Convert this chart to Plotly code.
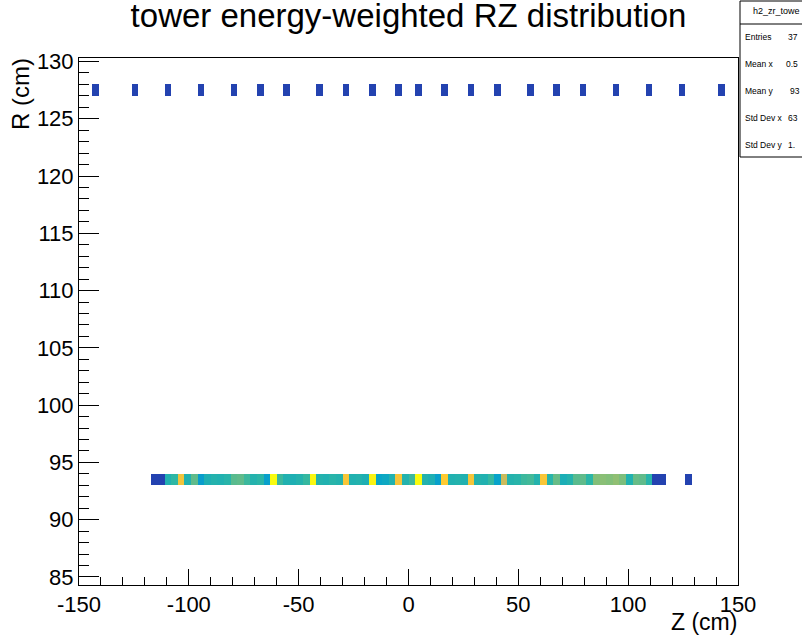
import plotly.graph_objects as go

# ---------------- data ----------------
title_text = "tower energy-weighted RZ distribution"
x_title = "Z (cm)"
y_title = "R (cm)"

# histogram binning (ROOT TH2): Z 100 bins in [-150,150], R bins of 1 cm
z_lo, z_hi, z_width = -150.0, 150.0, 3.0
r_lo, r_hi, r_width = 84.0, 131.0, 1.0
r_view = [84.3, 130.3]

x_tickvals = [-150, -100, -50, 0, 50, 100, 150]
x_ticktext = ["-150", "-100", "-50", "0", "50", "100", "150"]
y_tickvals = [85, 90, 95, 100, 105, 110, 115, 120, 125, 130]
y_ticktext = ["85", "90", "95", "100", "105", "110", "115", "120", "125", "130"]

# outer row (R = 127.5 cm)
upper_R = 127.5
upper_z = [-142.5, -124.5, -109.5, -94.5, -79.5, -67.5, -55.5, -40.5, -28.5, -16.5, -4.5,
           4.5, 16.5, 28.5, 40.5, 55.5, 67.5, 79.5, 94.5, 109.5, 124.5, 142.5]
upper_w = [0.06, 0.06, 0.06, 0.06, 0.06, 0.06, 0.06, 0.06, 0.06, 0.06, 0.06,
           0.06, 0.06, 0.06, 0.06, 0.06, 0.06, 0.06, 0.06, 0.06, 0.06, 0.06]

# inner row (R = 93.5 cm)
lower_R = 93.5
lower_z = [-115.5, -112.5, -109.5, -106.5, -103.5, -100.5, -97.5, -94.5, -91.5, -88.5,
           -85.5, -82.5, -79.5, -76.5, -73.5, -70.5, -67.5, -64.5, -61.5, -58.5,
           -55.5, -52.5, -49.5, -46.5, -43.5, -40.5, -37.5, -34.5, -31.5, -28.5,
           -25.5, -22.5, -19.5, -16.5, -13.5, -10.5, -7.5, -4.5, -1.5, 1.5,
           4.5, 7.5, 10.5, 13.5, 16.5, 19.5, 22.5, 25.5, 28.5, 31.5,
           34.5, 37.5, 40.5, 43.5, 46.5, 49.5, 52.5, 55.5, 58.5, 61.5,
           64.5, 67.5, 70.5, 73.5, 76.5, 79.5, 82.5, 85.5, 88.5, 91.5,
           94.5, 97.5, 100.5, 103.5, 106.5, 109.5, 112.5, 115.5, 127.5]
lower_w = [0.06, 0.06, 0.46, 0.50, 0.84, 0.46, 0.57, 0.35, 0.45, 0.47,
           0.46, 0.48, 0.56, 0.57, 0.52, 0.47, 0.49, 0.36, 1.00, 0.52,
           0.46, 0.45, 0.47, 0.51, 0.99, 0.47, 0.46, 0.48, 0.47, 0.86,
           0.46, 0.47, 0.45, 0.98, 0.38, 0.40, 0.46, 0.85, 0.47, 0.52,
           1.00, 0.47, 0.45, 0.36, 0.88, 0.46, 0.47, 0.46, 0.85, 0.47,
           0.46, 0.51, 0.37, 0.74, 0.47, 0.48, 0.52, 0.53, 0.47, 0.86,
           0.48, 0.58, 0.44, 0.47, 0.56, 0.57, 0.49, 0.62, 0.63, 0.62,
           0.64, 0.61, 0.46, 0.58, 0.57, 0.48, 0.06, 0.06, 0.06]

stats_name = "h2_zr_towe"
stats_labels = ["Entries", "Mean x", "Mean y", "Std Dev x", "Std Dev y"]
stats_values = ["37", "0.5", "93", "63", "1."]

# ROOT kBird palette
bird = [(0.000, "rgb(53,42,135)"), (0.125, "rgb(15,92,221)"), (0.250, "rgb(20,129,214)"),
        (0.375, "rgb(6,164,202)"), (0.500, "rgb(46,183,164)"), (0.625, "rgb(135,191,119)"),
        (0.750, "rgb(209,187,89)"), (0.875, "rgb(254,200,50)"), (1.000, "rgb(249,251,14)")]

# ---------------- build histogram table ----------------
nz = int(round((z_hi - z_lo) / z_width))
nr = int(round((r_hi - r_lo) / r_width))
grid = [[None] * nz for _ in range(nr)]


def fill(R, zs, ws):
    ir = int((R - r_lo) // r_width)
    for zc, w in zip(zs, ws):
        iz = int((zc - z_lo) // z_width)
        grid[ir][iz] = w


fill(upper_R, upper_z, upper_w)
fill(lower_R, lower_z, lower_w)

fig = go.Figure(go.Heatmap(
    z=grid,
    x0=z_lo + z_width / 2, dx=z_width,
    y0=r_lo + r_width / 2, dy=r_width,
    colorscale=bird, zmin=0, zmax=1,
    showscale=False, hoverongaps=False,
))

W, H = 802, 639
L, R_, T, B = 79, 64, 58, 54
FONT = "Liberation Sans, Arial, Helvetica, sans-serif"


def xp(px):
    return (px - L) / (W - L - R_)


def yp(py):
    return (H - B - py) / (H - T - B)


fig.update_layout(
    width=W, height=H,
    margin=dict(l=L, r=R_, t=T, b=B),
    paper_bgcolor="white", plot_bgcolor="white",
    font=dict(family=FONT, color="black"),
    title=dict(text=title_text, x=0.5, xref="paper", y=1 - 15 / H, yref="container",
               xanchor="center", yanchor="middle", font=dict(size=33, family=FONT, color="black")),
    showlegend=False,
)

fig.update_xaxes(
    range=[z_lo, z_hi], tickmode="array", tickvals=x_tickvals, ticktext=x_ticktext,
    ticks="inside", ticklen=16, tickwidth=1, tickcolor="black",
    minor=dict(dtick=10, tick0=0, ticks="inside", ticklen=8, tickcolor="black", tickwidth=1, showgrid=False),
    showgrid=False, zeroline=False,
    showline=True, linecolor="black", linewidth=1, mirror=True,
    tickfont=dict(size=22, family=FONT, color="black"),
)
fig.update_yaxes(
    range=r_view, tickmode="array", tickvals=y_tickvals, ticktext=y_ticktext,
    ticks="inside", ticklen=20, tickwidth=1, tickcolor="black",
    minor=dict(dtick=1, tick0=0, ticks="inside", ticklen=10, tickcolor="black", tickwidth=1, showgrid=False),
    showgrid=False, zeroline=False,
    showline=True, linecolor="black", linewidth=1, mirror=True,
    tickfont=dict(size=22, family=FONT, color="black"),
)

# axis titles (ROOT style, right/top aligned)
fig.add_annotation(text=x_title, xref="paper", yref="paper", x=xp(739), y=yp(622),
                   xanchor="right", yanchor="middle", showarrow=False,
                   font=dict(size=23, family=FONT, color="black"))
fig.add_annotation(text=y_title, xref="paper", yref="paper", x=xp(21), y=yp(56),
                   xanchor="center", yanchor="top", textangle=-90, showarrow=False,
                   font=dict(size=24, family=FONT, color="black"))

# stats box
fig.add_shape(type="rect", xref="paper", yref="paper", x0=xp(740), x1=xp(900), y0=yp(157), y1=yp(1),
              line=dict(color="black", width=1), fillcolor="white", layer="above")
fig.add_shape(type="line", xref="paper", yref="paper", x0=xp(740), x1=xp(900), y0=yp(24), y1=yp(24),
              line=dict(color="black", width=1), layer="above")
fig.add_annotation(text=stats_name, xref="paper", yref="paper", x=xp(751), y=yp(11),
                   xanchor="left", yanchor="middle", showarrow=False,
                   font=dict(size=9, family=FONT, color="black"))
row_y = [37, 64, 91, 118, 145]
val_x = [786, 784, 788, 786, 786]
for lab, val, ry, vx in zip(stats_labels, stats_values, row_y, val_x):
    fig.add_annotation(text=lab, xref="paper", yref="paper", x=xp(743), y=yp(ry),
                       xanchor="left", yanchor="middle", showarrow=False,
                       font=dict(size=8.5, family=FONT, color="black"))
    fig.add_annotation(text=val, xref="paper", yref="paper", x=xp(vx), y=yp(ry),
                       xanchor="left", yanchor="middle", showarrow=False,
                       font=dict(size=8.5, family=FONT, color="black"))

fig.write_html("out.html", config={"displayModeBar": False},
               post_script="document.body.style.margin='0';document.body.style.overflow='hidden';")
